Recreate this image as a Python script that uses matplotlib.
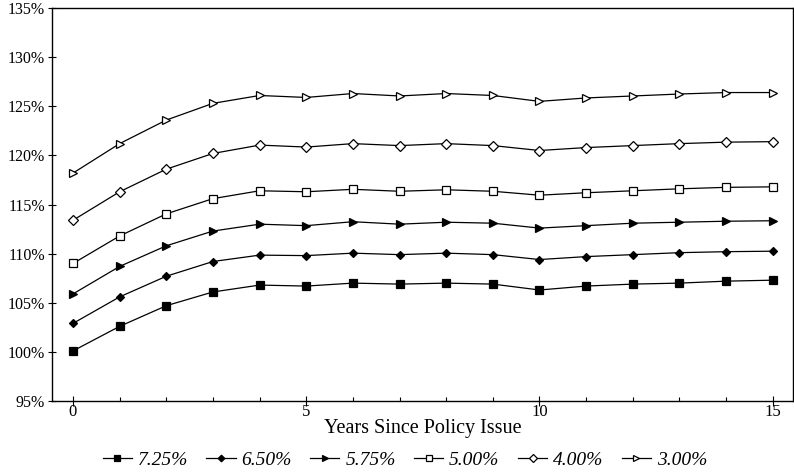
import matplotlib
matplotlib.use('Agg')
import matplotlib.pyplot as plt
import numpy as np

# data
years = list(range(16))
r725 = [100.1, 102.6, 104.7, 106.1, 106.8, 106.7, 107.0, 106.9, 107.0, 106.9, 106.3, 106.7, 106.9, 107.0, 107.2, 107.3]
r650 = [102.9, 105.6, 107.7, 109.2, 109.85, 109.8, 110.05, 109.9, 110.05, 109.9, 109.4, 109.7, 109.9, 110.1, 110.2, 110.25]
r575 = [105.9, 108.7, 110.8, 112.3, 113.0, 112.85, 113.25, 113.0, 113.2, 113.1, 112.6, 112.85, 113.1, 113.2, 113.3, 113.35]
r500 = [109.0, 111.8, 114.05, 115.6, 116.4, 116.3, 116.55, 116.35, 116.5, 116.35, 115.95, 116.2, 116.4, 116.6, 116.75, 116.8]
r400 = [113.4, 116.3, 118.6, 120.2, 121.05, 120.85, 121.2, 121.0, 121.2, 121.0, 120.5, 120.8, 121.0, 121.2, 121.35, 121.4]
r300 = [118.2, 121.2, 123.6, 125.3, 126.1, 125.9, 126.3, 126.05, 126.3, 126.1, 125.5, 125.85, 126.05, 126.25, 126.4, 126.4]
labels = ['7.25%', '6.50%', '5.75%', '5.00%', '4.00%', '3.00%']
yticks = [95, 100, 105, 110, 115, 120, 125, 130, 135]

plt.rcParams['font.family'] = ['Liberation Serif', 'DejaVu Serif']

fig = plt.figure(figsize=(7.94, 4.74), dpi=100)
ax = fig.add_axes([0.0655, 0.154, 0.933, 0.829])

# marker, filled?, size
styles = [('s', True, 5.5), ('D', True, 4.5), ('>', True, 5.5),
          ('s', False, 5.5), ('D', False, 5), ('>', False, 6)]
series = [r725, r650, r575, r500, r400, r300]

for vals, (mk, filled, ms), lab in zip(series, styles, labels):
    ax.plot(years, vals, color='black', lw=0.9, marker=mk, ms=ms,
            mfc='black' if filled else 'white', mec='black', mew=0.9, label=lab)

ax.set_xlim(-0.45, 15.43)
ax.set_ylim(95, 135)
ax.set_yticks(yticks)
ax.set_yticklabels(['%d%%' % v for v in yticks], fontsize=11.5)
ax.set_xticks([0, 5, 10, 15])
ax.set_xticks(years, minor=True)
ax.tick_params(axis='x', which='major', direction='inout', length=7, width=0.8, labelsize=12, pad=-1)
ax.tick_params(axis='x', which='minor', direction='in', length=3, width=0.8)
ax.tick_params(axis='y', direction='inout', length=6, width=0.8, pad=2)
for s in ax.spines.values():
    s.set_linewidth(1.0)

ax.set_xlabel('Years Since Policy Issue', fontsize=14.5, labelpad=-1)

leg = fig.legend(loc='center', bbox_to_anchor=(0.51, 0.03), ncol=6, frameon=False,
                 prop={'style': 'italic', 'size': 14}, handlelength=1.5, handletextpad=0.3,
                 columnspacing=0.95, markerscale=0.75, borderpad=0)

fig.savefig('out.png', dpi=100)
